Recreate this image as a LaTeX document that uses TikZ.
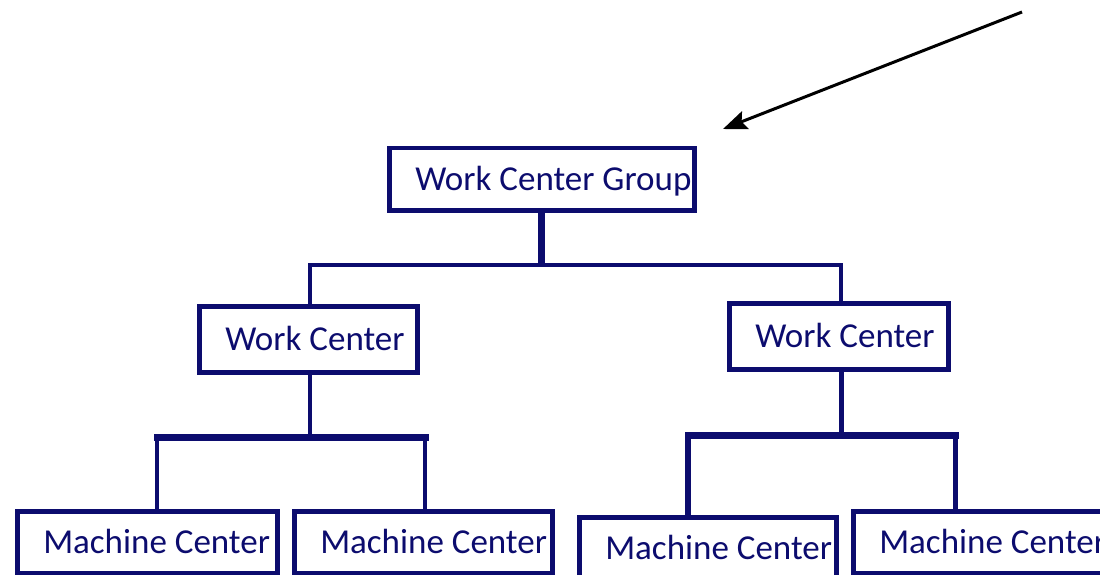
\documentclass[tikz,border=0pt]{standalone}
\usepackage{fontspec}
\setmainfont{Carlito}
\usetikzlibrary{arrows.meta}
\definecolor{ink}{RGB}{12,12,110}
\newcommand{\boxlabel}[2]{\makebox[#1][l]{#2}}
\begin{document}
\begin{tikzpicture}[x=1pt,y=-1pt,font=\fontsize{35}{42}\selectfont,
	box/.style={draw=ink,text=ink,line width=4.5pt,anchor=north west,inner xsep=26pt,inner ysep=0pt,minimum height=62pt,text height=23pt,text depth=0pt},
	link/.style={draw=ink,line width=#1},
	pointer/.style={draw=black,line width=3pt,-{Stealth[length=24pt,width=19pt,inset=4pt]}}]

	\useasboundingbox (0,0) rectangle (1100,575);
	\clip (0,0) rectangle (1100,575);

	\node[box] (group) at (387,146) {\boxlabel{253pt}{Work Center Group}};
	\node[box,minimum height=66pt] (wcleft) at (197,304) {\boxlabel{166pt}{Work Center}};
	\node[box,minimum height=66pt] (wcright) at (727,301) {\boxlabel{167pt}{Work Center}};
	\node[box] (mc1) at (15,509) {\boxlabel{208pt}{Machine Center}};
	\node[box] (mc2) at (292,509) {\boxlabel{206pt}{Machine Center}};
	\node[box] (mc3) at (577,515) {\boxlabel{205pt}{Machine Center}};
	\node[box] (mc4) at (851,509) {\boxlabel{208pt}{Machine Center}};

	\coordinate (busl) at (310,265);
	\coordinate (busr) at (841,265);
	\coordinate (lbusl) at (157,437);
	\coordinate (lbusr) at (425,437);
	\coordinate (rbusl) at (688,435);
	\coordinate (rbusr) at (955,435);
	\coordinate (ptr) at (1022,12);
	\coordinate (tip) at (723,129);

	\draw[link=7pt] (group.south) -- (group.south |- busl);
	\draw[link=4pt] (busl |- wcleft.north) -- (busl) -- (busr) -- (busr |- wcright.north);

	\draw[link=4pt] (busl |- wcleft.south) -- (busl |- lbusl);
	\draw[link=7pt,line cap=rect] (lbusl) -- (lbusr);
	\draw[link=3.5pt] (lbusl) -- (lbusl |- mc1.north);
	\draw[link=3.5pt] (lbusr) -- (lbusr |- mc2.north);

	\draw[link=5pt] (busr |- wcright.south) -- (busr |- rbusl);
	\draw[link=7pt,line cap=rect] (rbusl) -- (rbusr);
	\draw[link=6pt] (rbusl) -- (rbusl |- mc3.north);
	\draw[link=5pt] (rbusr) -- (rbusr |- mc4.north);

	\draw[pointer] (ptr) -- (tip);
\end{tikzpicture}
\end{document}
